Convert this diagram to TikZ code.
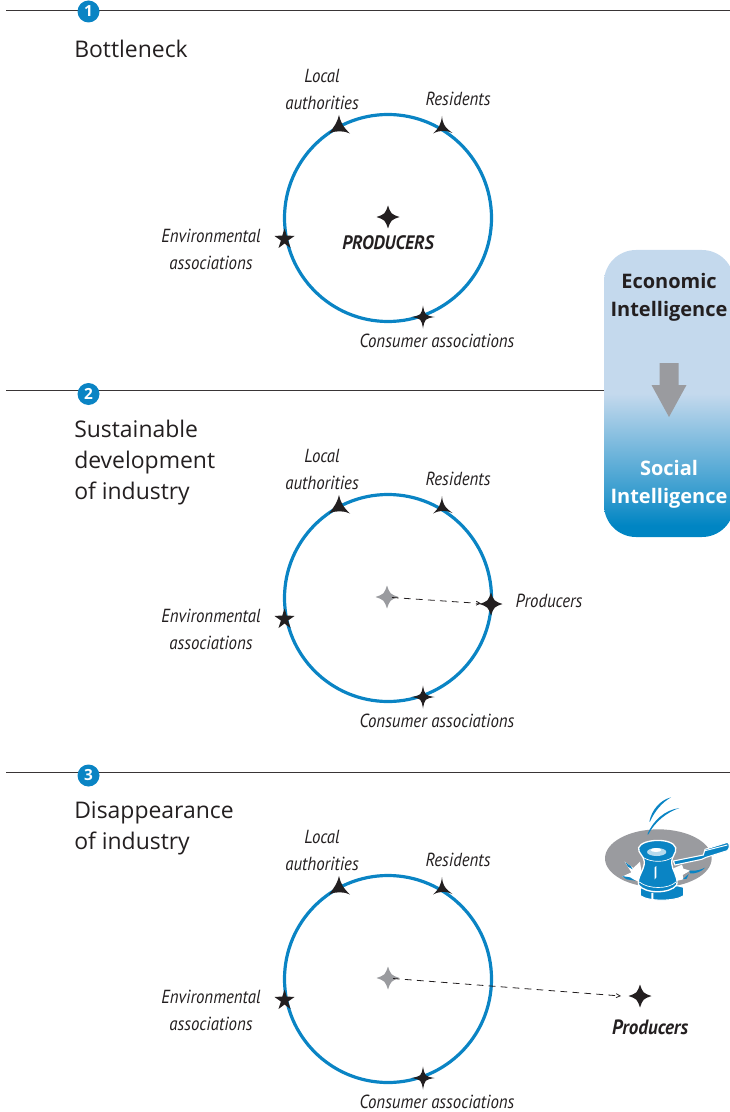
\documentclass[tikz,border=0pt]{standalone}
\usepackage{fontspec}
\setmainfont{Open Sans}
\newfontfamily\lblfont[FakeStretch=0.89]{PT Sans}
\newfontfamily\lblboldfont[FakeStretch=0.92]{PT Sans}
\usetikzlibrary{arrows.meta}
\definecolor{ringblue}{HTML}{0A84C4}
\definecolor{inkblack}{HTML}{231F20}
\definecolor{ghostgrey}{HTML}{9A9B9F}
\definecolor{boxlight}{HTML}{C4D9ED}
\definecolor{boxdeep}{HTML}{0085C3}
\pgfdeclareverticalshading{boxshade}{100bp}{
  color(0bp)=(boxdeep); color(27bp)=(boxdeep); color(32bp)=(boxdeep!75!boxlight);
  color(38bp)=(boxdeep!50!boxlight); color(44bp)=(boxdeep!25!boxlight); color(50bp)=(boxlight); color(100bp)=(boxlight)}
\tikzset{
  rulebar/.style={draw=inkblack!90,line width=0.75pt},
  ringline/.style={draw=ringblue,line width=2.4pt},
  numdot/.style={circle,fill=ringblue,text=white,inner sep=0pt,minimum size=16.5pt,font=\bfseries\fontsize{11.5}{11.5}\selectfont},
  heading/.style={anchor=north west,align=left,inner sep=0pt,text=inkblack,font=\fontsize{17.2}{23.3}\selectfont},
  actor/.style={text=inkblack,inner sep=0pt,align=center,font=\lblfont\itshape\fontsize{14.2}{20.4}\selectfont},
  boldactor/.style={text=inkblack,inner sep=0pt,align=center,font=\lblboldfont\bfseries\itshape\fontsize{14.6}{20.4}\selectfont},
  boxtext/.style={inner sep=0pt,align=center,font=\bfseries\fontsize{15}{21}\selectfont},
  moveline/.style={draw=inkblack,line width=0.6pt,dash pattern=on 5pt off 4pt,-{Straight Barb[length=3pt,width=3pt]}},
}
% star helpers, drawn about the point #1 in pixel units
\newcommand{\fourstar}[4]{\fill[#4] (#1) ++(0,-#2) .. controls +(#3,#2-#3) and +(-#2+#3,-#3) .. ++(#2,#2)
  .. controls +(-#2+#3,#3) and +(#3,-#2+#3) .. ++(-#2,#2)
  .. controls +(-#3,-#2+#3) and +(#2-#3,#3) .. ++(-#2,-#2)
  .. controls +(#2-#3,-#3) and +(-#3,#2-#3) .. cycle;}
\newcommand{\ringgroup}[2]{%
\begin{scope}[yshift={#2*-0.75pt}]
  \node[circle,minimum size=207*0.75pt,inner sep=0pt,ringline] (#1ring) at (388,218) {};
  \node[actor] (#1local) at (322,89.5) {Local\\authorities};
  \node[actor] (#1res) at (458,99) {Residents};
  \node[actor] (#1env) at (211,249.5) {Environmental\\associations};
  \node[actor] (#1con) at (437,341) {Consumer associations};
  % three-pointed, local authorities
  \fill[inkblack] (339,115) .. controls (340.5,122) and (343,127) .. (350,133.5)
     .. controls (344,130.5) and (335,130.5) .. (329,133.5) .. controls (334,127) and (337.5,122) .. cycle;
  % three-pointed, residents
  \fill[inkblack] (442,116) .. controls (442.5,123) and (444,127) .. (452.5,133)
     .. controls (446,130) and (440,130) .. (433,133.5) .. controls (439,128) and (441,124) .. cycle;
  % five-pointed, environmental
  \fill[inkblack] (284.5,228.5) -- (286.7,235.5) -- (294.5,236) -- (288.1,240.5) -- (290.5,248) -- (284.5,243.5) -- (278.5,248) -- (280.9,240.5) -- (274.5,236) -- (282.3,235.5) -- cycle;
  % slim four-pointed, consumer
  \fourstar{423,317}{11.5}{1.8}{inkblack}
\end{scope}}
\begin{document}
\begin{tikzpicture}[x=0.75pt,y=-0.75pt]
\useasboundingbox (0,0) rectangle (730,1112);
% rules
\coordinate (r1a) at (6,11); \coordinate (r1b) at (730,11);
\coordinate (r2a) at (6,390); \coordinate (r2b) at (606,390);
\coordinate (r3a) at (6,772); \coordinate (r3b) at (730,772);
\draw[rulebar] (r1a) -- (r1b);
\draw[rulebar] (r2a) -- (r2b);
\draw[rulebar] (r3a) -- (r3b);
\node[numdot] (n1) at (88.5,11.5) {1};
\node[numdot] (n2) at (88.5,394) {2};
\node[numdot] (n3) at (88.5,775.5) {3};
\node[heading] (h1) at (74,40) {Bottleneck};
\node[heading] (h2) at (74,420) {Sustainable\\development\\of industry};
\node[heading] (h3) at (74,801.5) {Disappearance\\of industry};
% group 1
\ringgroup{a}{0}
\fourstar{388,217}{11.5}{3}{inkblack}
\node[boldactor] (aprod) at (388,243) {PRODUCERS};
% group 2
\ringgroup{b}{380}
\fourstar{387,597}{11.5}{3}{ghostgrey}
\fourstar{491,604}{11.5}{3}{inkblack}
\coordinate (bfrom) at (392,597.5);
\coordinate (bto) at (481,603.5);
\draw[moveline] (bfrom) -- (bto);
\node[actor] (bprod) at (549,601) {Producers};
% group 3
\ringgroup{c}{761}
\fourstar{388,978}{11.5}{3}{ghostgrey}
\fourstar{640,996}{11.5}{3}{inkblack}
\coordinate (cfrom) at (393,978.5);
\coordinate (cto) at (621,996);
\draw[moveline] (cfrom) -- (cto);
\node[boldactor,font=\lblboldfont\bfseries\itshape\fontsize{15.5}{20.4}\selectfont] (cprod) at (650,1027) {Producers};
% shifting box
\begin{scope}
 \clip (0,0) rectangle (730,1112);
 \path[shading=boxshade,rounded corners=24pt] (604,250) rectangle (734,537);
\end{scope}
\node[boxtext,text=inkblack] (econ) at (669,297.5) {Economic\\Intelligence};
\node[boxtext,text=white] (soc) at (669,484.5) {Social\\Intelligence};
\fill[ghostgrey] (659.5,363) -- (678.5,363) -- (678.5,385) -- (686.5,385) -- (669,417) -- (651.5,385) -- (659.5,385) -- cycle;
% gavel, in zoom units
\begin{scope}[shift={(590,780)},x=0.25pt,y=-0.25pt]
 \fill[ghostgrey] (205,235) ellipse [x radius=160,y radius=87];
 % sparks
 \fill[white] (104,245) -- (130,264) -- (150,245) -- (160,312) -- (135,300) -- (96,290) -- (124,277) -- cycle;
 \fill[white] (250,265) -- (276,254) -- (280,266) -- (300,272) -- (278,285) -- (280,298) -- (250,305) -- cycle;
 \fill[ringblue] (106,247) -- (122,258) -- (128,268) -- (114,260) -- cycle;
 \fill[ringblue] (96,288) -- (120,292) -- (136,302) -- (110,298) -- cycle;
 \fill[ringblue] (298,272) .. controls (320,274) and (335,268) .. (345,263) .. controls (335,275) and (315,282) .. (300,280) -- cycle;
 \fill[ringblue] (278,298) -- (296,282) -- (290,296) -- cycle;
 % handle
 \fill[ringblue,draw=white,line width=0.8pt] (250,243) -- (340,225) -- (345,208) -- (412,187) .. controls (420,190) and (420,205) .. (412,212) -- (348,232) -- (335,238) -- (255,255) -- cycle;
 \draw[white,line width=0.7pt] (345,212) -- (412,195);
 % base
 \fill[ringblue,draw=white,line width=0.8pt] (151,322) .. controls (170,312) and (255,312) .. (281,322) -- (281,347) .. controls (255,365) and (175,365) .. (151,347) -- cycle;
 \fill[white] (184,339) -- (190,338) -- (190,358) -- (184,357) -- cycle;
 % head
 \fill[ringblue,draw=white,line width=1pt] (146,203) .. controls (155,176) and (247,172) .. (257,203)
   .. controls (260,222) and (244,226) .. (245,250) .. controls (246,272) and (266,290) .. (260,315)
   .. controls (240,342) and (165,342) .. (146,315) .. controls (140,290) and (164,270) .. (163,245)
   .. controls (162,226) and (143,220) .. cycle;
 \fill[white!70!ringblue] (200,216) ellipse [x radius=29,y radius=12];
 \fill[white] (198,210) ellipse [x radius=16,y radius=6];
 \draw[white,line width=0.5pt] (158,232) .. controls (185,248) and (225,248) .. (247,232);
 \draw[white,line width=0.5pt] (148,306) .. controls (175,328) and (235,328) .. (258,306);
 \fill[white] (194,262) -- (199,258) -- (199,292) -- (194,298) -- cycle;
 % motion strokes
 \fill[ringblue] (172,163) .. controls (190,120) and (225,90) .. (268,84) .. controls (230,97) and (195,125) .. (175,163) -- cycle;
 \fill[ringblue] (178,125) .. controls (185,90) and (210,60) .. (243,52) .. controls (215,68) and (193,95) .. (180,125) -- cycle;
\end{scope}
\end{tikzpicture}
\end{document}
